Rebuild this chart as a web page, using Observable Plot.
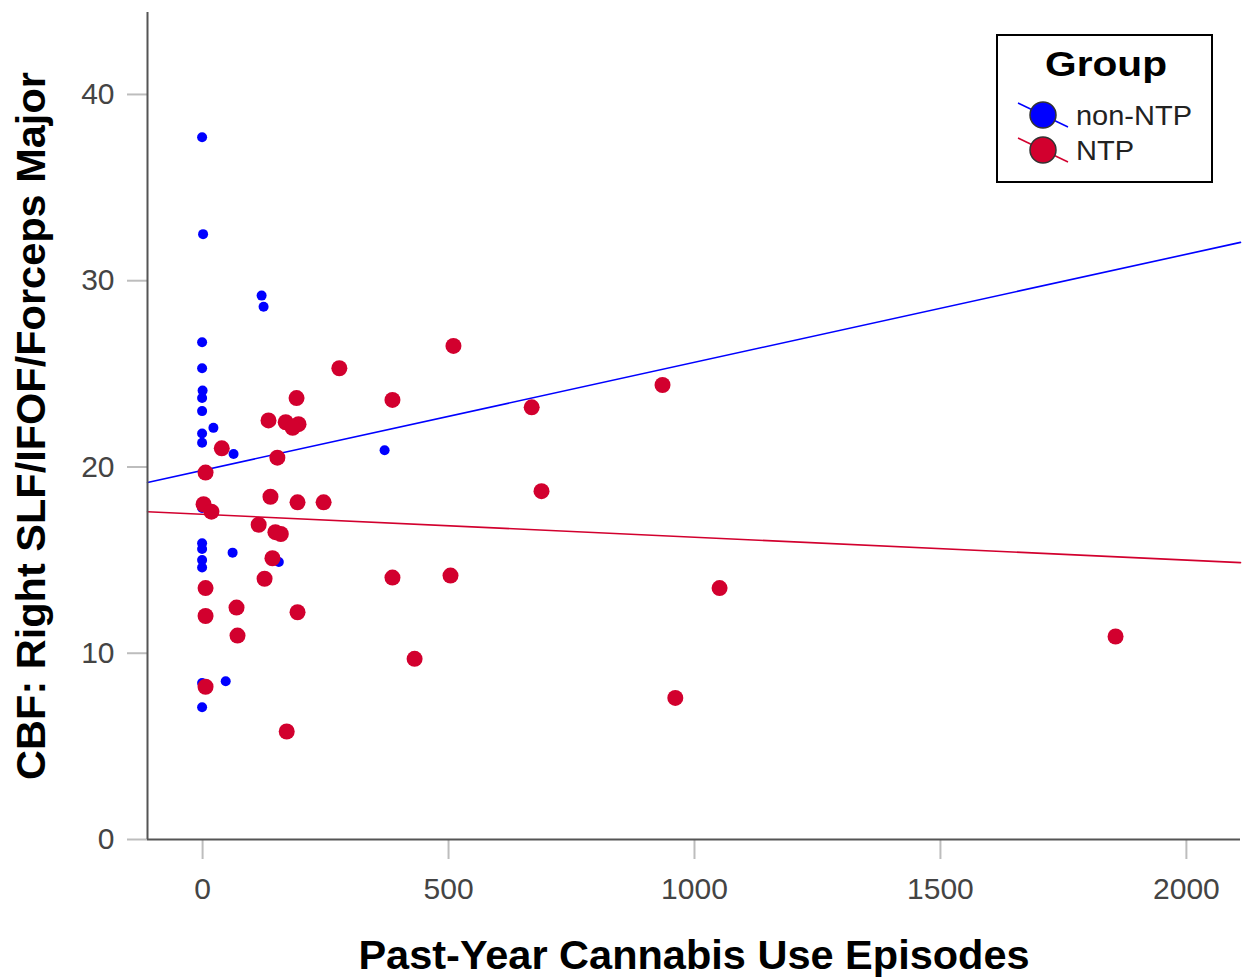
<!DOCTYPE html>
<html>
<head>
<meta charset="utf-8">
<script src="https://cdn.jsdelivr.net/npm/d3@7"></script>
<script src="https://cdn.jsdelivr.net/npm/@observablehq/plot@0.6"></script>
<style>
  html, body { margin: 0; padding: 0; background: #fff; }
  #wrap { position: relative; width: 1254px; height: 979px; }
  #legend { position: absolute; left: 996px; top: 34px; }
</style>
</head>
<body>
<div id="wrap"></div>
<script>
// ---- data ----
const xTitle = "Past-Year Cannabis Use Episodes";
const yTitle = "CBF: Right SLF/IFOF/Forceps Major";
const legendTitle = "Group";
const groups = ["non-NTP", "NTP"];
const groupColors = ["#0000FF", "#D2002E"];

const xDomain = [-112, 2110];
const yDomain = [0, 44.4];
const xTicks = [0, 500, 1000, 1500, 2000];
const yTicks = [0, 10, 20, 30, 40];

// non-NTP (blue)
const nonNtpX = [-1, 1, 120, 124, -1, -1, 0, -1, -1, 22, -1, -1, 63, 370, -1, -1, -1, -1, -1, 61, 155, -1, 47, -1];
const nonNtpY = [37.7, 32.5, 29.2, 28.6, 26.7, 25.3, 24.1, 23.7, 23.0, 22.1, 21.8, 21.3, 20.7, 20.9, 17.8, 15.9, 15.6, 15.0, 14.6, 15.4, 14.9, 8.4, 8.5, 7.1];

// NTP (red)
const ntpX = [278, 191, 134, 169, 195, 183, 39, 152, 6, 138, 193, 246, 2, 18, 114, 148, 159, 142, 126, 6, 69, 193, 6, 71, 6, 171, 510, 386, 669, 935, 689, 386, 504, 1051, 431, 961, 1856];
const ntpY = [25.3, 23.7, 22.5, 22.4, 22.3, 22.1, 21.0, 20.5, 19.7, 18.4, 18.1, 18.1, 18.0, 17.6, 16.9, 16.5, 16.4, 15.1, 14.0, 13.5, 12.45, 12.2, 12.0, 10.95, 8.2, 5.8, 26.5, 23.6, 23.2, 24.4, 18.7, 14.06, 14.17, 13.5, 9.7, 7.6, 10.9];

// fit lines (per group)
const fitIntercepts = [19.82, 17.46];
const fitSlopes = [0.0058, -0.00123];

// ---- build tables ----
const nonNtp = nonNtpX.map((x, i) => ({group: groups[0], x, y: nonNtpY[i]}));
const ntp = ntpX.map((x, i) => ({group: groups[1], x, y: ntpY[i]}));
const fitRows = groups.flatMap((g, i) => xDomain.map(x => ({group: g, x, y: fitIntercepts[i] + fitSlopes[i] * x})));

const font = "'Liberation Sans', Arial, sans-serif";

const chart = Plot.plot({
  width: 1254,
  height: 979,
  marginLeft: 147,
  marginRight: 14,
  marginTop: 12,
  marginBottom: 140,
  style: {fontFamily: font, background: "#fff", overflow: "visible"},
  x: {domain: xDomain},
  y: {domain: yDomain},
  color: {domain: groups, range: groupColors},
  marks: [
    Plot.axisY(yTicks, {tickSize: 20, tickPadding: 13, fontSize: 30, stroke: "#bdbdbd", strokeWidth: 2, fill: "#444", label: null, tickFormat: d => String(d)}),
    Plot.axisX(xTicks, {tickSize: 20, tickPadding: 18, fontSize: 30, stroke: "#bdbdbd", strokeWidth: 2, fill: "#444", label: null, tickFormat: d => String(d)}),
    Plot.line(fitRows, {x: "x", y: "y", z: "group", stroke: "group", strokeWidth: 1.6}),
    Plot.dot(nonNtp, {x: "x", y: "y", fill: "group", r: 5}),
    Plot.dot(ntp, {x: "x", y: "y", fill: "group", r: 8}),
    Plot.ruleY([yDomain[0]], {stroke: "#555", strokeWidth: 2}),
    Plot.ruleX([xDomain[0]], {stroke: "#555", strokeWidth: 2}),
    Plot.text([xTitle], {frameAnchor: "bottom", dy: 116, fontSize: 41.5, fontWeight: "bold", fill: "#000", lineAnchor: "middle", textAnchor: "middle", text: d => d}),
    Plot.text([yTitle], {frameAnchor: "left", dx: -116, rotate: -90, fontSize: 41.5, fontWeight: "bold", fill: "#000", lineAnchor: "middle", textAnchor: "middle", text: d => d})
  ]
});
document.getElementById("wrap").appendChild(chart);

// ---- legend ----
const lg = d3.select("#wrap").append("svg")
  .attr("id", "legend")
  .attr("width", 218).attr("height", 150)
  .style("font-family", font);
lg.append("rect").attr("x", 1).attr("y", 1).attr("width", 215).attr("height", 147)
  .attr("fill", "#fff").attr("stroke", "#000").attr("stroke-width", 2);
lg.append("text").attr("x", 110).attr("y", 42).attr("text-anchor", "middle")
  .attr("font-size", 35).attr("font-weight", "bold").attr("fill", "#000")
  .attr("textLength", 122).attr("lengthAdjust", "spacingAndGlyphs")
  .text(legendTitle);
const itemLens = [116, 58];
groups.forEach((g, i) => {
  const cy = 81 + i * 35;
  lg.append("line").attr("x1", 22).attr("y1", cy - 12).attr("x2", 72).attr("y2", cy + 12)
    .attr("stroke", groupColors[i]).attr("stroke-width", 1.5);
  lg.append("circle").attr("cx", 47).attr("cy", cy).attr("r", 13)
    .attr("fill", groupColors[i]).attr("stroke", "#333").attr("stroke-width", 1.5);
  lg.append("text").attr("x", 80).attr("y", cy + 10)
    .attr("font-size", 27).attr("fill", "#222")
    .attr("textLength", itemLens[i]).attr("lengthAdjust", "spacingAndGlyphs")
    .text(g);
});
</script>
</body>
</html>
